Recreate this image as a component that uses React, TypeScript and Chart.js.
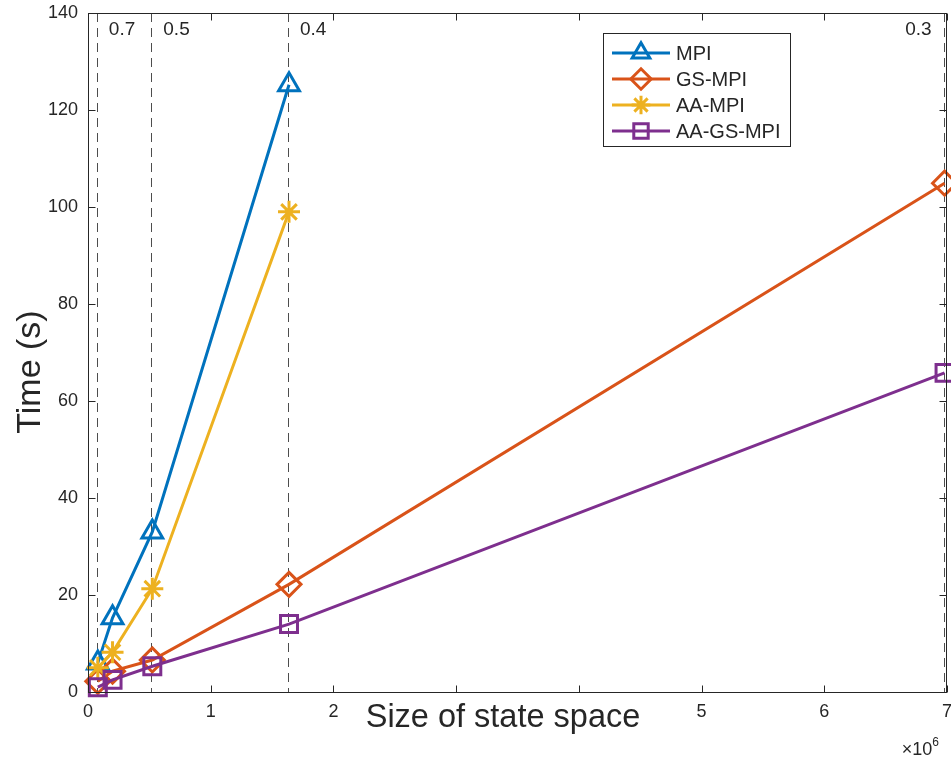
import React, { useEffect, useRef } from 'react';
import { Chart, registerables } from 'chart.js';
import { drawPoint } from 'chart.js/helpers';

Chart.register(...registerables);

// ---- data ----
const stateSizes = [0.08e6, 0.2e6, 0.524e6, 1.638e6, 6.98e6];
const mpiTimes = [6, 15.3, 33, 125.2];
const gsMpiTimes = [2.2, 4.3, 6.6, 22.2, 104.9];
const aaMpiTimes = [5, 8.2, 21.3, 99];
const aaGsMpiTimes = [1, 2.5, 5.3, 14, 65.8];
const seriesNames = ['MPI', 'GS-MPI', 'AA-MPI', 'AA-GS-MPI'];
const thresholdX = [0.08e6, 0.524e6, 1.638e6, 6.98e6];
const thresholdLabels = ['0.7', '0.5', '0.4', '0.3'];
const xTickLabels = ['0', '1', '2', '', '', '5', '6', '7'];
const xTitle = 'Size of state space';
const yTitle = 'Time (s)';

// ---- style ----
const FONT = '"Liberation Sans", Arial, Helvetica, sans-serif';
const AXIS = '#262626';
const colors = ['#0072BD', '#D95319', '#EDB120', '#7E2F8E'];
const markers = ['triangle', 'rectRot', 'star', 'rect'];
const markerRadius = [12, 12, 11, 12];

const toPoints = (ys: number[]) => ys.map((y, i) => ({ x: stateSizes[i], y }));

const boxPlugin = {
  id: 'boxPlugin',
  beforeDatasetsDraw(chart: any) {
    const { ctx, chartArea: a, scales } = chart;
    const xs = scales.x;
    ctx.save();
    ctx.strokeStyle = '#4d4d4d';
    ctx.lineWidth = 1;
    ctx.setLineDash([9, 6]);
    thresholdX.forEach((v) => {
      const px = Math.round(xs.getPixelForValue(v)) - 0.5;
      ctx.beginPath();
      ctx.moveTo(px, a.top);
      ctx.lineTo(px, a.bottom);
      ctx.stroke();
    });
    ctx.setLineDash([]);
    ctx.fillStyle = AXIS;
    ctx.font = `19px ${FONT}`;
    ctx.textBaseline = 'middle';
    thresholdX.forEach((v, i) => {
      const px = xs.getPixelForValue(v);
      const last = i === thresholdX.length - 1;
      ctx.textAlign = last ? 'right' : 'left';
      ctx.fillText(thresholdLabels[i], last ? px - 13 : px + 11, 30);
    });

    // axis titles
    ctx.fillStyle = AXIS;
    ctx.textAlign = 'center';
    ctx.textBaseline = 'middle';
    ctx.font = `32.5px ${FONT}`;
    ctx.fillText(xTitle, 503, 718);
    ctx.save();
    ctx.translate(31, 372);
    ctx.rotate(-Math.PI / 2);
    ctx.font = `34px ${FONT}`;
    ctx.fillText(yTitle, 0, 0);
    ctx.restore();
    ctx.restore();
  },
  afterDraw(chart: any) {
    const { ctx, chartArea: a, scales } = chart;
    const xs = scales.x;
    const ys = scales.y;
    ctx.save();
    ctx.strokeStyle = AXIS;
    ctx.lineWidth = 1;
    const L = Math.round(a.left) + 0.5;
    const R = Math.round(a.right) - 0.5;
    const T = Math.round(a.top) + 0.5;
    const B = Math.round(a.bottom) + 0.5;
    ctx.strokeRect(L, T, R - L, B - T);
    const tl = 7;
    ctx.beginPath();
    xs.ticks.forEach((t: any) => {
      const px = Math.round(xs.getPixelForValue(t.value)) + 0.5;
      ctx.moveTo(px, B);
      ctx.lineTo(px, B - tl);
      ctx.moveTo(px, T);
      ctx.lineTo(px, T + tl);
    });
    ys.ticks.forEach((t: any) => {
      const py = Math.round(ys.getPixelForValue(t.value)) + 0.5;
      ctx.moveTo(L, py);
      ctx.lineTo(L + tl, py);
      ctx.moveTo(R, py);
      ctx.lineTo(R - tl, py);
    });
    ctx.stroke();

    // exponent label
    ctx.fillStyle = AXIS;
    ctx.textBaseline = 'alphabetic';
    ctx.textAlign = 'left';
    ctx.font = `12px ${FONT}`;
    const expW = ctx.measureText('6').width;
    ctx.font = `18px ${FONT}`;
    const baseW = ctx.measureText('\u00d710').width;
    const ex = a.right - 8 - expW - baseW;
    ctx.fillText('\u00d710', ex, 755);
    ctx.font = `12px ${FONT}`;
    ctx.fillText('6', ex + baseW, 746);

    // legend
    const bx = 603.5, by = 33.5, bw = 187, bh = 113;
    ctx.fillStyle = '#ffffff';
    ctx.fillRect(bx, by, bw, bh);
    ctx.strokeStyle = AXIS;
    ctx.lineWidth = 1;
    ctx.strokeRect(bx, by, bw, bh);
    const rowY = [53, 79, 105, 131];
    seriesNames.forEach((name, i) => {
      const y = rowY[i];
      ctx.strokeStyle = colors[i];
      ctx.lineWidth = 3;
      ctx.beginPath();
      ctx.moveTo(612, y);
      ctx.lineTo(670, y);
      ctx.stroke();
      ctx.fillStyle = 'rgba(0,0,0,0)';
      ctx.strokeStyle = colors[i];
      ctx.lineWidth = 3;
      drawPoint(
        ctx,
        {
          pointStyle: markers[i],
          radius: markerRadius[i] * 0.85,
          borderWidth: 3,
          rotation: 0,
        } as any,
        641,
        y
      );
      ctx.fillStyle = AXIS;
      ctx.font = `20px ${FONT}`;
      ctx.textAlign = 'left';
      ctx.textBaseline = 'middle';
      ctx.fillText(name, 676, y + 1);
    });
    ctx.restore();
  },
};

export default function App() {
  const ref = useRef<HTMLCanvasElement | null>(null);
  useEffect(() => {
    document.body.style.margin = '0';
    const canvas = ref.current;
    if (!canvas) return;
    const seriesData = [mpiTimes, gsMpiTimes, aaMpiTimes, aaGsMpiTimes];
    const chart = new Chart(canvas, {
      type: 'line',
      data: {
        datasets: seriesData.map((ys, i) => ({
          label: seriesNames[i],
          data: toPoints(ys),
          borderColor: colors[i],
          backgroundColor: 'rgba(0,0,0,0)',
          borderWidth: 3,
          pointStyle: markers[i] as any,
          pointRadius: markerRadius[i],
          pointBorderWidth: 3,
          pointBorderColor: colors[i],
          pointBackgroundColor: 'rgba(0,0,0,0)',
          tension: 0,
          fill: false,
          clip: false as any,
          order: 4 - i,
        })),
      },
      options: {
        responsive: false,
        animation: false,
        layout: { autoPadding: false, padding: { top: 13, right: 4, left: 0, bottom: 0 } },
        plugins: {
          legend: { display: false },
          tooltip: { enabled: false },
        },
        scales: {
          x: {
            type: 'linear',
            min: 0,
            max: 7e6,
            grid: { display: false, drawTicks: false },
            border: { display: false },
            ticks: {
              stepSize: 1e6,
              padding: 9,
              color: AXIS,
              font: { family: FONT, size: 18 },
              maxRotation: 0,
              autoSkip: false,
              callback: (v: any) => xTickLabels[Math.round(Number(v) / 1e6)] ?? '',
            },
            afterFit: (s: any) => {
              s.height = 72;
              s.paddingLeft = 0;
              s.paddingRight = 0;
            },
          },
          y: {
            type: 'linear',
            min: 0,
            max: 140,
            grid: { display: false, drawTicks: false },
            border: { display: false },
            ticks: {
              stepSize: 20,
              padding: 10,
              color: AXIS,
              font: { family: FONT, size: 18 },
            },
            afterFit: (s: any) => {
              s.width = 88;
              s.paddingTop = 0;
              s.paddingBottom = 0;
            },
          },
        },
      },
      plugins: [boxPlugin],
    });
    return () => chart.destroy();
  }, []);
  return (
    <div style={{ width: 951, height: 764, background: '#fff' }}>
      <canvas ref={ref} width={951} height={764} style={{ display: 'block' }} />
    </div>
  );
}
